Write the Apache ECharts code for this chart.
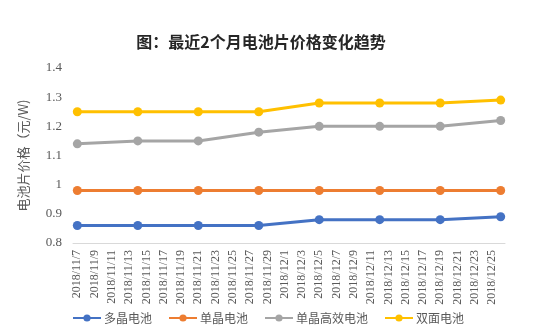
<!DOCTYPE html>
<html><head><meta charset="utf-8">
<script src="https://cdn.jsdelivr.net/npm/echarts@6/dist/echarts.min.js"></script>
<style>html,body{margin:0;padding:0;background:#fff}#c{width:542px;height:334px}</style>
</head><body><div id="c"></div>
<script>
var categories = ['2018/11/7','2018/11/8','2018/11/9','2018/11/10','2018/11/11','2018/11/12','2018/11/13','2018/11/14','2018/11/15','2018/11/16','2018/11/17','2018/11/18','2018/11/19','2018/11/20','2018/11/21','2018/11/22','2018/11/23','2018/11/24','2018/11/25','2018/11/26','2018/11/27','2018/11/28','2018/11/29','2018/11/30','2018/12/1','2018/12/2','2018/12/3','2018/12/4','2018/12/5','2018/12/6','2018/12/7','2018/12/8','2018/12/9','2018/12/10','2018/12/11','2018/12/12','2018/12/13','2018/12/14','2018/12/15','2018/12/16','2018/12/17','2018/12/18','2018/12/19','2018/12/20','2018/12/21','2018/12/22','2018/12/23','2018/12/24','2018/12/25','2018/12/26'];
var pointDates = ['2018/11/7','2018/11/14','2018/11/21','2018/11/28','2018/12/5','2018/12/12','2018/12/19','2018/12/26'];
var seriesNames = ['多晶电池','单晶电池','单晶高效电池','双面电池'];
var polyValues = [0.86,0.86,0.86,0.86,0.88,0.88,0.88,0.89];
var monoValues = [0.98,0.98,0.98,0.98,0.98,0.98,0.98,0.98];
var monoHiValues = [1.14,1.15,1.15,1.18,1.20,1.20,1.20,1.22];
var bifacialValues = [1.25,1.25,1.25,1.25,1.28,1.28,1.28,1.29];
var colors = ['#4472C4','#ED7D31','#A5A5A5','#FFC000'];

function pairs(vals){ return pointDates.map(function(d,i){ return [d, vals[i]]; }); }
var allVals = [polyValues, monoValues, monoHiValues, bifacialValues];
var chart = echarts.init(document.getElementById('c'));
chart.setOption({
  animation:false,
  color: colors,
  title:{text:'图：最近2个月电池片价格变化趋势', left:256, textAlign:'center', top:29,
    textStyle:{fontSize:16, fontWeight:'bold', color:'#262626', fontFamily:'Noto Sans CJK SC'}},
  grid:{left:73, right:37, top:68, bottom:91},
  legend:{top:312, left:72, padding:0, itemWidth:28, itemHeight:9, itemGap:16,
    textStyle:{fontSize:12, color:'#595959', fontFamily:'Noto Sans CJK SC', padding:[0,0,0,-2]},
    data: seriesNames},
  xAxis:{type:'category', data:categories, boundaryGap:true,
    axisLine:{lineStyle:{color:'#d9d9d9'}}, axisTick:{show:false},
    axisLabel:{rotate:90, interval:1, fontSize:12, color:'#595959', fontFamily:'Liberation Serif', margin:7}},
  yAxis:{type:'value', min:0.8, max:1.4, interval:0.1,
    name:'电池片价格（元/W)', nameLocation:'middle', nameGap:43,
    nameTextStyle:{fontSize:13, color:'#595959', fontFamily:'Noto Sans CJK SC'},
    axisLine:{show:false}, axisTick:{show:false}, splitLine:{show:false},
    axisLabel:{fontSize:13, color:'#595959', fontFamily:'Liberation Serif', margin:11}},
  series: seriesNames.map(function(n,i){ return {
    name:n, type:'line', data:pairs(allVals[i]), symbol:'circle', symbolSize:9, showAllSymbol:true,
    lineStyle:{width:3, color:colors[i]}, itemStyle:{color:colors[i]}
  };})
});
</script></body></html>
